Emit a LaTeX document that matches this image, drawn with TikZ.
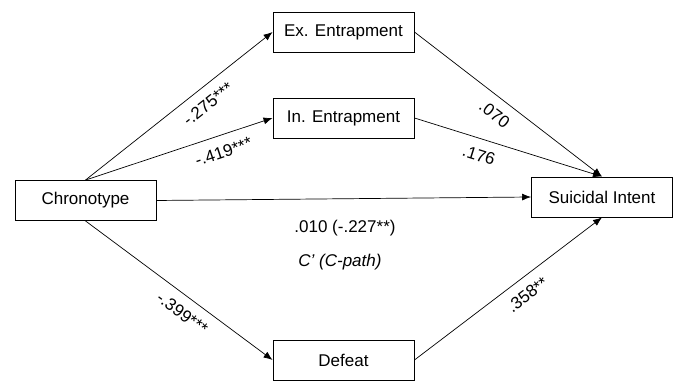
\documentclass[tikz,border=0pt]{standalone}
\usepackage{fontspec}
\setmainfont{Liberation Sans}
\usepackage{tikz}
\usetikzlibrary{arrows.meta}

\tikzset{
  varbox/.style={draw, line width=0.9pt, minimum width=141pt, minimum height=40pt, inner sep=0pt},
  path/.style={line width=0.7pt, -{Latex[length=9pt,width=7pt]}},
  coef/.style={sloped, below=10pt, inner sep=0pt}
}

\begin{document}
\begin{tikzpicture}[x=1pt, y=1pt, font=\fontsize{17}{20}\selectfont]
\useasboundingbox (0,0) rectangle (678,382);

% Variables
\node[varbox] (ex) at (343.5,350) {Ex. Entrapment};
\node[varbox] (in) at (343.5,264) {In. Entrapment};
\node[varbox] (chrono) at (85.5,181.5) {Chronotype};
\node[varbox] (intent) at (602,185) {Suicidal Intent};
\node[varbox] (defeat) at (343.5,22) {Defeat};

% a-paths
\draw[path] (chrono.north) -- node[coef, pos=0.6] {-.275***} (ex.west);
\draw[path] (chrono.north) -- node[coef, pos=0.71] {-.419***} (in.west);
\draw[path] (chrono.south) -- node[coef, pos=0.57] {-.399***} (defeat.west);

% b-paths
\draw[path] (ex.east) -- node[coef, pos=0.48] {.070} (intent.north);
\draw[path] (in.east) -- node[coef, pos=0.37] {.176} (intent.north);
\draw[path] (defeat.east) -- node[coef, pos=0.55] {.358**} (intent.south);

% c-path
\draw[path] (chrono.east) -- (intent.west);
\node (cval) at (345,154) {.010 (-.227**)};
\node (clab) at (340,120) {\itshape C’ (C-path)};
\end{tikzpicture}
\end{document}
